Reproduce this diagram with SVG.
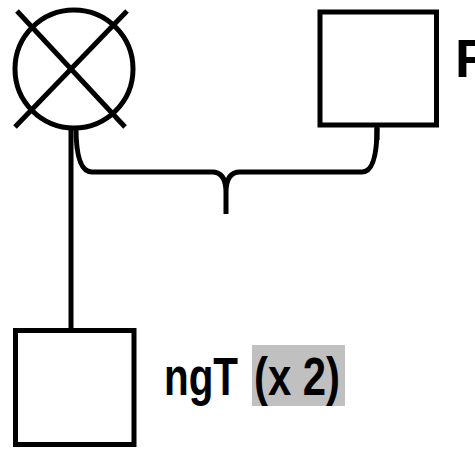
<svg xmlns="http://www.w3.org/2000/svg" width="475" height="449" viewBox="0 0 475 449">
<style>
.s{fill:none;stroke:#000;stroke-width:5}
.t{font-family:"Liberation Sans",Arial,sans-serif;font-weight:bold;font-size:54px;fill:#000}
</style>
<rect width="475" height="449" fill="#fff"/>
<g id="connectors">
<line class="s" x1="71" y1="127" x2="71" y2="331"/>
<line class="s" x1="377" y1="125" x2="377" y2="140"/>
<path class="s" stroke-width="6" d="M76 128 Q76 172 92 172 L212 172 Q226 172 226 192 L226 214 M226 192 Q226 172 240 172 L362 172 Q377 172 377 128"/>
</g>
<g id="node-circle">
<circle class="s" cx="74" cy="69" r="59"/>
<line class="s" x1="17" y1="11" x2="125" y2="127"/>
<line class="s" x1="127" y1="11" x2="15" y2="127"/>
</g>
<g id="node-F">
<rect class="s" stroke-width="6" x="320" y="12" width="116.5" height="113" fill="#fff"/>
<text class="t" x="455" y="77">F</text>
</g>
<g id="node-ngT">
<rect class="s" x="15.5" y="330.5" width="118.5" height="114" fill="#fff"/>
<rect x="252" y="345" width="93" height="61" fill="#c0c0c0"/>
<text class="t" x="164" y="395" textLength="74" lengthAdjust="spacingAndGlyphs">ngT</text>
<text class="t" x="254" y="395" textLength="86" lengthAdjust="spacingAndGlyphs">(x 2)</text>
</g>
</svg>
